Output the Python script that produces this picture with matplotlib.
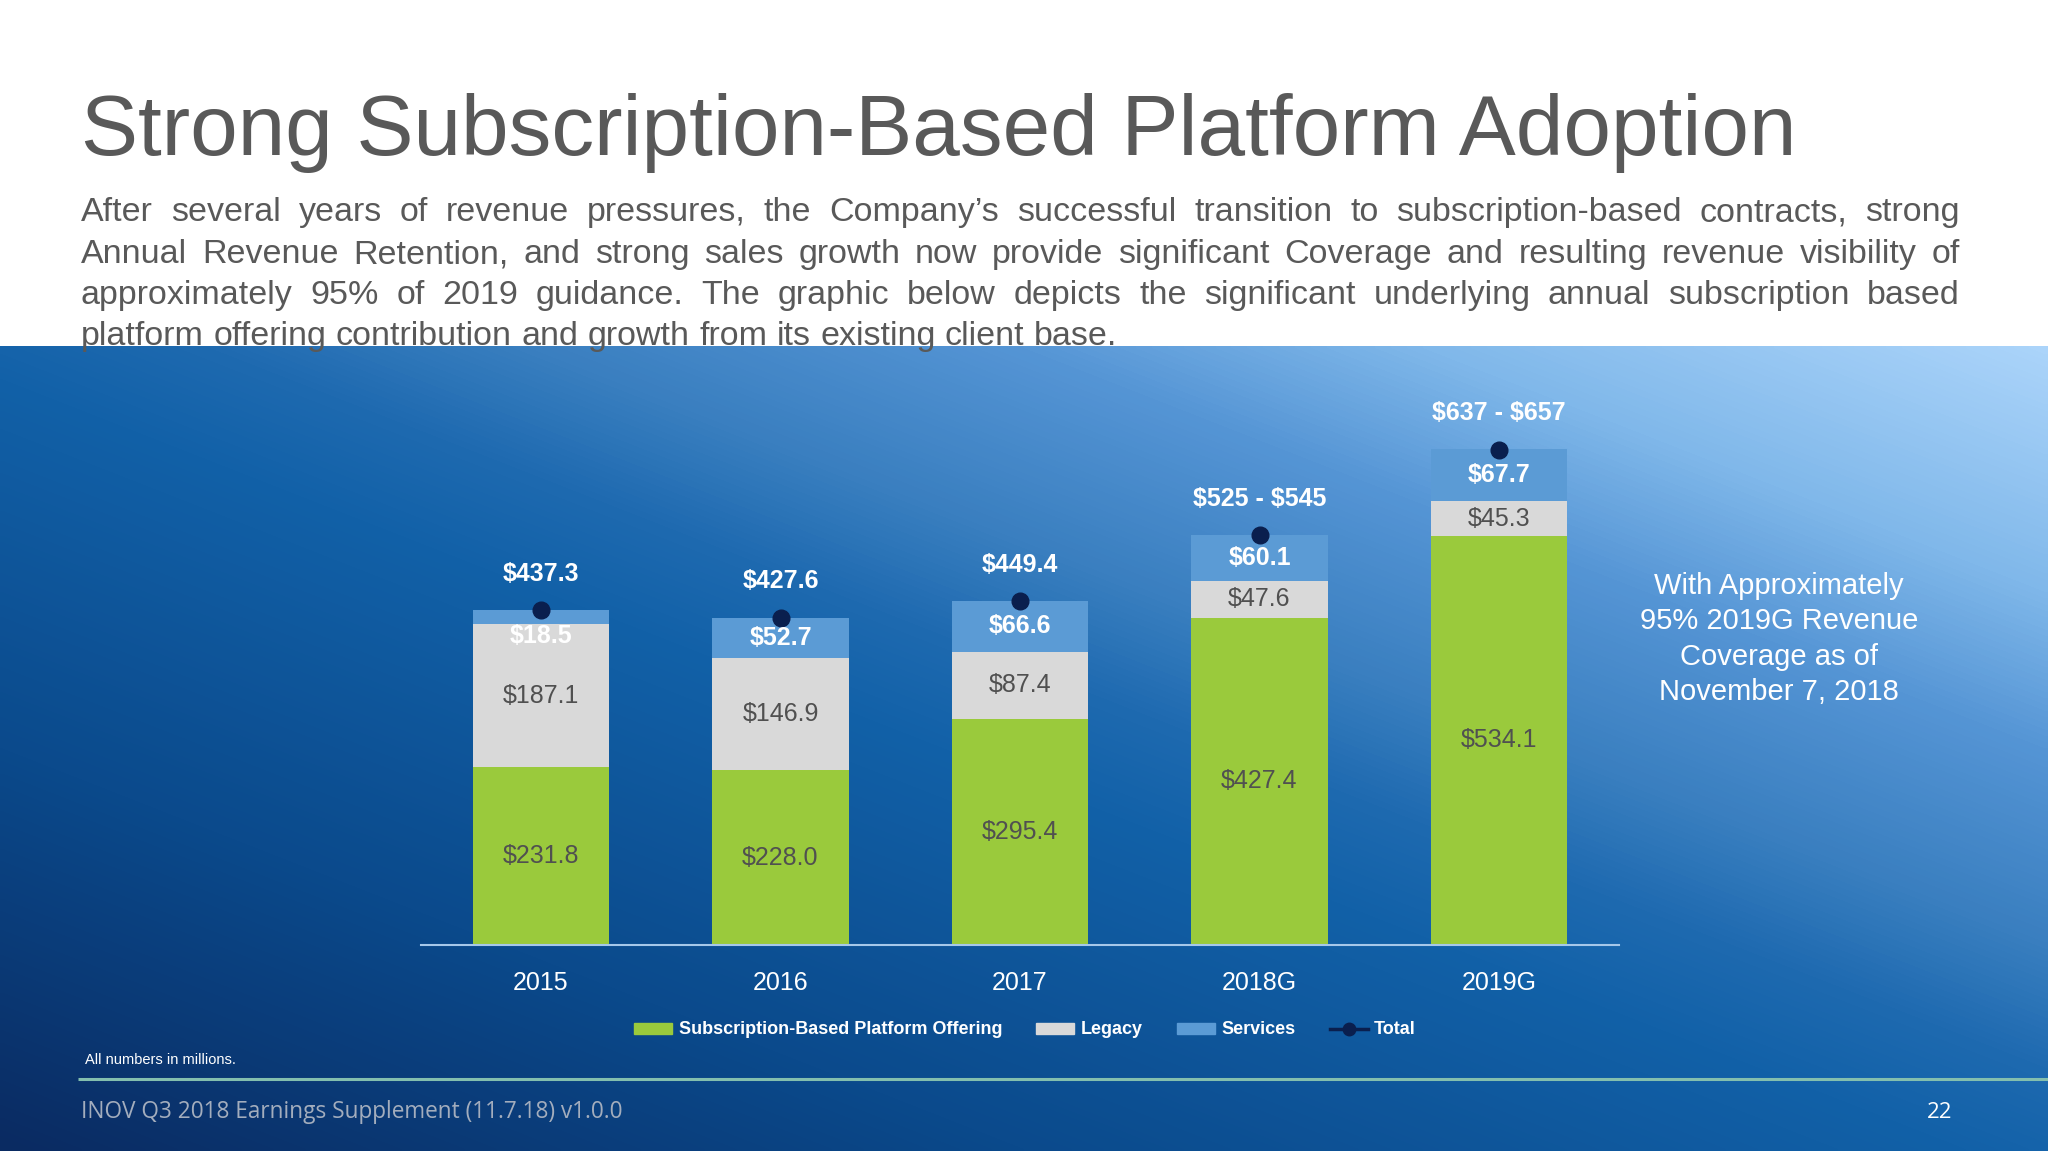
import numpy as np
import matplotlib
matplotlib.use("Agg")
import matplotlib.pyplot as plt
from matplotlib.colors import LinearSegmentedColormap
from matplotlib.patches import Patch
from matplotlib.lines import Line2D

plt.rcParams['font.family'] = ['Liberation Sans', 'DejaVu Sans']

# data, in millions
years = ["2015", "2016", "2017", "2018G", "2019G"]
subscription = [231.8, 228.0, 295.4, 427.4, 534.1]
legacy = [187.1, 146.9, 87.4, 47.6, 45.3]
services = [18.5, 52.7, 66.6, 60.1, 67.7]
totals = [437.3, 427.6, 449.4, 535.0, 647.0]
total_labels = [r"\$437.3", r"\$427.6", r"\$449.4", r"\$525 - \$545", r"\$637 - \$657"]

title = "Strong Subscription-Based Platform Adoption"
paragraph = [
    "After several years of revenue pressures, the Company\u2019s successful transition to subscription-based contracts, strong",
    "Annual Revenue Retention, and strong sales growth now provide significant Coverage and resulting revenue visibility of",
    "approximately 95% of 2019 guidance. The graphic below depicts the significant underlying annual subscription based",
    "platform offering contribution and growth from its existing client base.",
]
side_note = "With Approximately\n95% 2019G Revenue\nCoverage as of\nNovember 7, 2018"

GREEN = "#9aca3c"
GREY = "#d9d9d9"
SERV = "#5b9bd5"
NAVY = "#0a1f4e"
TXT = "#595959"

W, H = 2048, 1151
fig = plt.figure(figsize=(W / 100, H / 100), dpi=100)
fig.patch.set_facecolor("white")

# background axes in pixel coordinates
bg = fig.add_axes([0, 0, 1, 1])
bg.set_xlim(0, W)
bg.set_ylim(H, 0)
bg.axis("off")

top = 346
cmap = LinearSegmentedColormap.from_list("slide", [
    (0.0, "#abd4fa"), (0.15, "#80b8ea"), (0.25, "#5595d5"), (0.37, "#3a7fc0"),
    (0.45, "#1e6ab0"), (0.52, "#1261a8"), (0.75, "#0b4a8c"), (1.0, "#0a2b62")])
u = np.linspace(0, 1, 400)
v = np.linspace(0, 1, 200)
U, V = np.meshgrid(u, v)
grad = (1 - U + V) / 2
bg.imshow(grad, cmap=cmap, vmin=0, vmax=1, extent=(0, W, H, top),
          aspect="auto", interpolation="bilinear", zorder=0)

bg.text(81, 155, title, fontsize=61.6, color=TXT, va="baseline", ha="left")

# justified paragraph
renderer = fig.canvas.get_renderer()
x0, x1 = 81, 1960
baselines = [221, 263, 304, 345]
for i, line in enumerate(paragraph):
    words = line.split()
    ts = [bg.text(0, baselines[i], w, fontsize=24.5, color=TXT, va="baseline",
                  ha="left", zorder=3) for w in words]
    widths = [t.get_window_extent(renderer).width for t in ts]
    if i < len(paragraph) - 1:
        gap = (x1 - x0 - sum(widths)) / (len(words) - 1)
    else:
        sp = bg.text(0, 0, " ", fontsize=24.5)
        gap = sp.get_window_extent(renderer).width
        sp.remove()
    x = x0
    for t, w in zip(ts, widths):
        t.set_x(x)
        x += w + gap

bg.text(1779, 639, side_note, fontsize=21, color="white", ha="center",
        va="center", linespacing=1.33)
bg.text(85, 1060, "All numbers in millions.", fontsize=10.5, color="white",
        ha="left", va="center")
bg.plot([78, W], [1079, 1079], color="#84bfae", lw=2.2, solid_capstyle="butt")
bg.text(81, 1112, "INOV Q3 2018 Earnings Supplement (11.7.18) v1.0.0",
        family=["Open Sans", "DejaVu Sans"], fontsize=16.3, color="#a3adbd",
        ha="left", va="center")
bg.text(1940, 1112, "22", family=["Open Sans", "DejaVu Sans"], fontsize=16,
        color="white", ha="center", va="center")

# chart
ax = fig.add_axes([421.25 / W, 1 - 945 / H, 1197.5 / W, 582 / H])
ax.patch.set_alpha(0)
ax.set_xlim(-0.5, 4.5)
ax.set_ylim(0, 760)
x = np.arange(len(years))
sub = np.array(subscription)
leg = np.array(legacy)
srv = np.array(services)
bw = 0.572
ax.bar(x, sub, width=bw, color=GREEN, zorder=2)
ax.bar(x, leg, bottom=sub, width=bw, color=GREY, zorder=2)
ax.bar(x, srv, bottom=sub + leg, width=bw, color=SERV, zorder=2)
ax.plot(x, totals, "o", color=NAVY, ms=12, zorder=4)

for i in range(len(years)):
    ax.text(x[i], sub[i] / 2, f"\\${sub[i]:.1f}", ha="center", va="center",
            fontsize=18, color="#505050", zorder=5)
    ax.text(x[i], sub[i] + leg[i] / 2, f"\\${leg[i]:.1f}", ha="center",
            va="center", fontsize=18, color="#505050", zorder=5)
    s_base = sub[i] + leg[i]
    sy = s_base + srv[i] / 2 if srv[i] > 30 else s_base - 15
    ax.text(x[i], sy, f"\\${srv[i]:.1f}", ha="center", va="center",
            fontsize=18, color="white", fontweight="bold", zorder=5)
    ax.annotate(total_labels[i], (x[i], totals[i]), xytext=(0, 26),
                textcoords="offset points", ha="center", va="center",
                fontsize=18, color="white", fontweight="bold",
                annotation_clip=False)

ax.set_xticks(x, years)
ax.tick_params(axis="x", length=0, pad=19, labelsize=18, labelcolor="white")
ax.set_yticks([])
for side in ["top", "left", "right"]:
    ax.spines[side].set_visible(False)
ax.spines["bottom"].set_color("#a6c8ea")
ax.spines["bottom"].set_linewidth(1.5)

handles = [Patch(color=GREEN), Patch(color=GREY), Patch(color=SERV),
           Line2D([], [], color=NAVY, marker="o", ms=9, lw=2.5)]
labels = ["Subscription-Based Platform Offering", "Legacy", "Services", "Total"]
ax.legend(handles, labels, loc="center", bbox_to_anchor=(1025 / W, 1 - 1030 / H),
          bbox_transform=fig.transFigure, ncol=4, frameon=False,
          prop={"size": 13, "weight": "bold"}, labelcolor="white",
          handlelength=2.1, handleheight=0.55, handletextpad=0.35,
          columnspacing=1.9)

fig.savefig("out.png", dpi=100)
